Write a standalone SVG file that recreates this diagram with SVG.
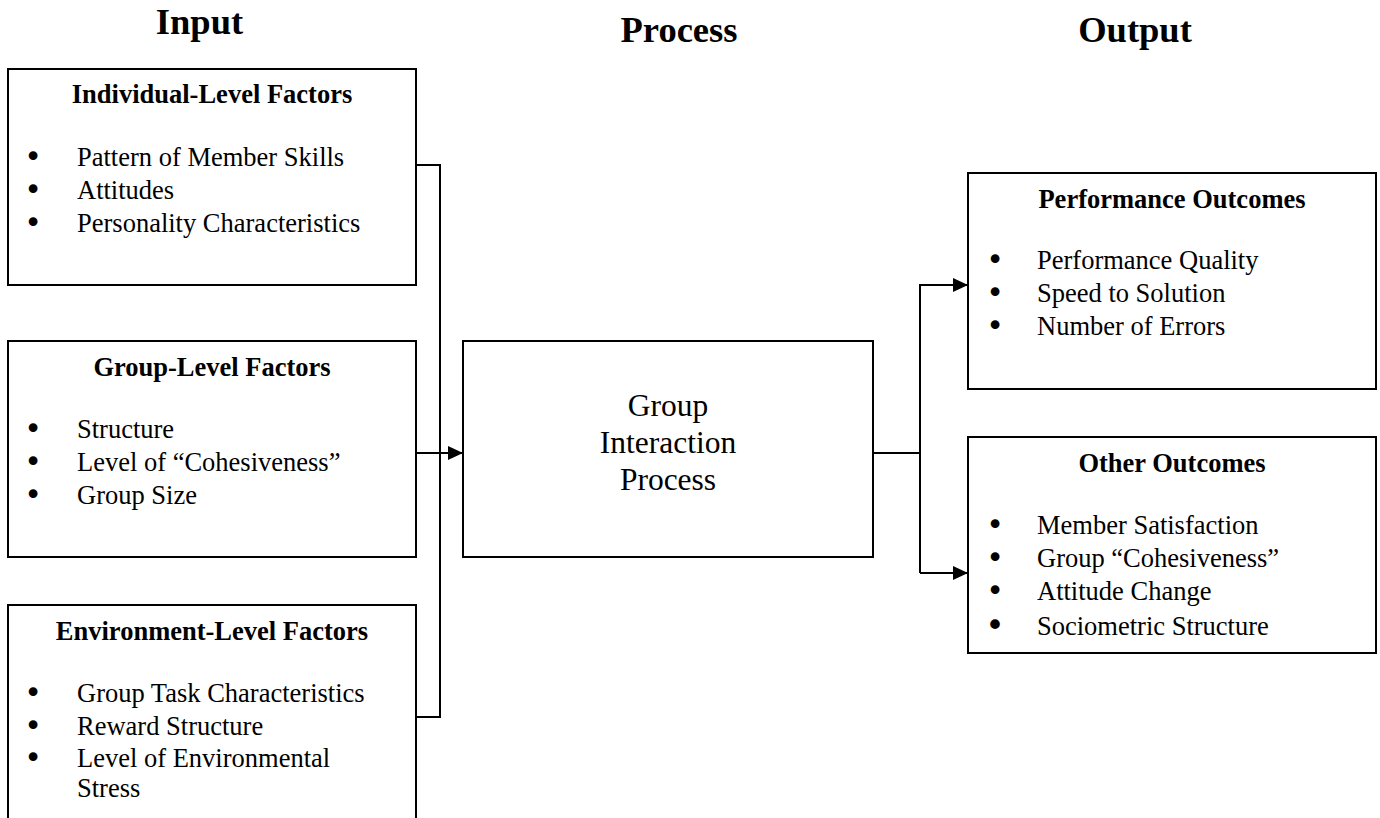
<svg xmlns="http://www.w3.org/2000/svg" width="1380" height="818" viewBox="0 0 1380 818">
  <defs>
    <marker id="arrow" markerUnits="userSpaceOnUse" markerWidth="16" markerHeight="16" viewBox="0 0 16 16" refX="15" refY="8" orient="auto">
      <path d="M0,1 L15,8 L0,15 Z" fill="#000"/>
    </marker>
    <style>
      .box { fill: #fff; stroke: #000; stroke-width: 2; }
      .hdr { font-family: "Liberation Serif", "Times New Roman", serif; font-weight: bold; font-size: 36.5px; text-anchor: middle; fill: #000; }
      .ttl { font-family: "Liberation Serif", "Times New Roman", serif; font-weight: bold; font-size: 26.5px; text-anchor: middle; fill: #000; }
      .itm { font-family: "Liberation Serif", "Times New Roman", serif; font-size: 26.5px; fill: #000; }
      .bul { font-family: "DejaVu Sans", sans-serif; font-size: 30px; text-anchor: middle; fill: #000; }
      .bul2 { font-family: "DejaVu Sans", sans-serif; font-size: 33px; text-anchor: middle; fill: #000; }
      .proc { font-family: "Liberation Serif", "Times New Roman", serif; font-size: 31.5px; text-anchor: middle; fill: #000; }
      .conn { fill: none; stroke: #000; stroke-width: 2; }
    </style>
  </defs>

  <g id="headers">
    <text class="hdr" x="199.5" y="34">Input</text>
    <text class="hdr" x="679" y="42">Process</text>
    <text class="hdr" x="1135" y="42">Output</text>
  </g>

  <g id="connectors">
    <path class="conn" d="M416,165 H440 V717 H416"/>
    <path class="conn" d="M416,453 H463" marker-end="url(#arrow)"/>
    <path class="conn" d="M873,453 H920"/>
    <path class="conn" d="M968,285 H920 V573"/>
    <path class="conn" d="M920,285 H968" marker-end="url(#arrow)"/>
    <path class="conn" d="M920,573 H968" marker-end="url(#arrow)"/>
  </g>

  <g id="individual">
    <rect class="box" x="8" y="69" width="408" height="216"/>
    <text class="ttl" x="212" y="103">Individual-Level Factors</text>
    <text class="bul" x="33" y="167">•</text>
    <text class="itm" x="77" y="166">Pattern of Member Skills</text>
    <text class="bul" x="33" y="200">•</text>
    <text class="itm" x="77" y="199">Attitudes</text>
    <text class="bul" x="33" y="233">•</text>
    <text class="itm" x="77" y="232">Personality Characteristics</text>
  </g>

  <g id="group">
    <rect class="box" x="8" y="341" width="408" height="216"/>
    <text class="ttl" x="212" y="376">Group-Level Factors</text>
    <text class="bul" x="33" y="439">•</text>
    <text class="itm" x="77" y="438">Structure</text>
    <text class="bul" x="33" y="472">•</text>
    <text class="itm" x="77" y="471">Level of “Cohesiveness”</text>
    <text class="bul" x="33" y="505">•</text>
    <text class="itm" x="77" y="504">Group Size</text>
  </g>

  <g id="environment">
    <rect class="box" x="8" y="605" width="408" height="240"/>
    <text class="ttl" x="212" y="640">Environment-Level Factors</text>
    <text class="bul" x="33" y="703">•</text>
    <text class="itm" x="77" y="702">Group Task Characteristics</text>
    <text class="bul" x="33" y="736">•</text>
    <text class="itm" x="77" y="735">Reward Structure</text>
    <text class="bul" x="33" y="768">•</text>
    <text class="itm" x="77" y="767">Level of Environmental</text>
    <text class="itm" x="77" y="797">Stress</text>
  </g>

  <g id="process">
    <rect class="box" x="463" y="341" width="410" height="216"/>
    <text class="proc" x="668" y="416">Group</text>
    <text class="proc" x="668" y="453">Interaction</text>
    <text class="proc" x="668" y="490">Process</text>
  </g>

  <g id="performance">
    <rect class="box" x="968" y="173" width="408" height="216"/>
    <text class="ttl" x="1172" y="208">Performance Outcomes</text>
    <text class="bul" x="995" y="270">•</text>
    <text class="itm" x="1037" y="269">Performance Quality</text>
    <text class="bul" x="995" y="303">•</text>
    <text class="itm" x="1037" y="302">Speed to Solution</text>
    <text class="bul" x="995" y="336">•</text>
    <text class="itm" x="1037" y="335">Number of Errors</text>
  </g>

  <g id="other">
    <rect class="box" x="968" y="437" width="408" height="216"/>
    <text class="ttl" x="1172" y="472">Other Outcomes</text>
    <text class="bul" x="995" y="535">•</text>
    <text class="itm" x="1037" y="534">Member Satisfaction</text>
    <text class="bul" x="995" y="568">•</text>
    <text class="itm" x="1037" y="567">Group “Cohesiveness”</text>
    <text class="bul" x="995" y="601">•</text>
    <text class="itm" x="1037" y="600">Attitude Change</text>
    <text class="bul2" x="995" y="637">•</text>
    <text class="itm" x="1037" y="635">Sociometric Structure</text>
  </g>
</svg>
